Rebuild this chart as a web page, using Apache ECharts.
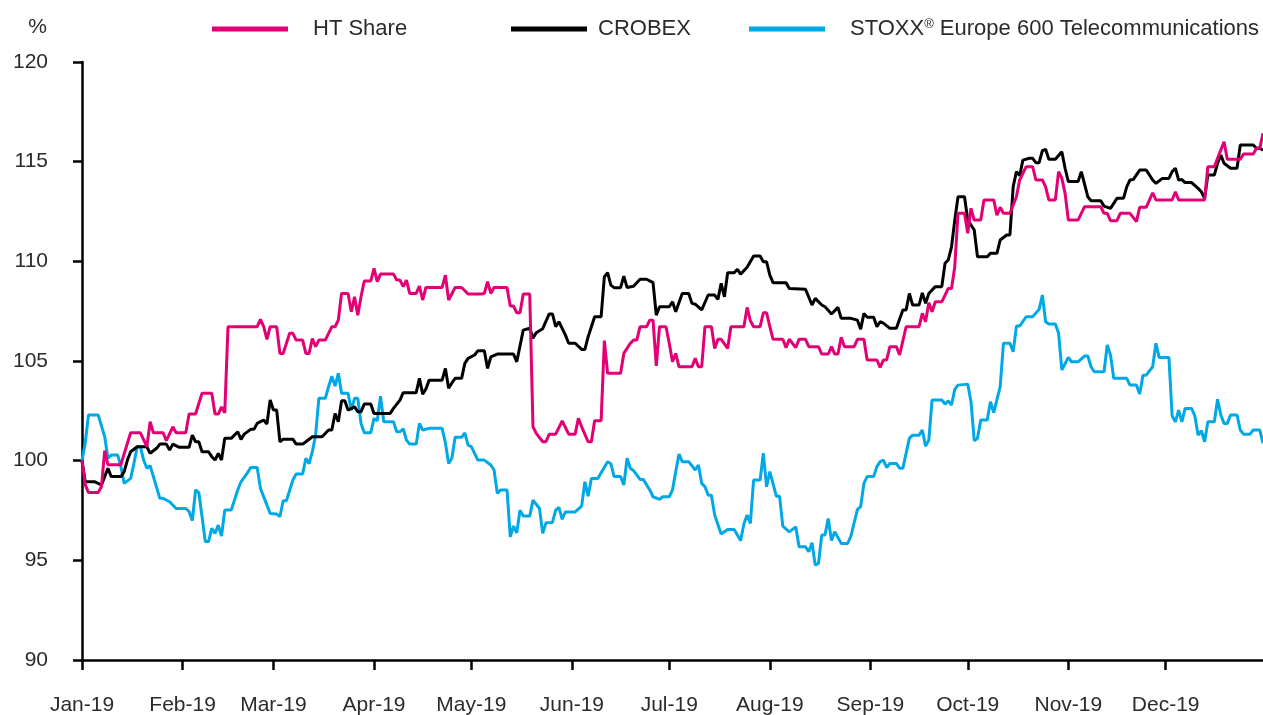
<!DOCTYPE html>
<html>
<head>
<meta charset="utf-8">
<script src="https://cdn.jsdelivr.net/npm/echarts@6/dist/echarts.min.js"></script>
<style>
  html, body { margin: 0; padding: 0; background: #fff; }
  #chart { width: 1263px; height: 715px; }
</style>
</head>
<body>
<div id="chart"></div>
<script>
// month tick labels
const monthNames = ["Jan", "Feb", "Mar", "Apr", "May", "Jun", "Jul", "Aug", "Sep", "Oct", "Nov", "Dec"];
const seriesNames = ["HT Share", "CROBEX", "STOXX® Europe 600 Telecommunications"];

// [day of 2019 (0 = 1 Jan), index value]
const htShare = [[0,100.0],[1,98.8],[2,98.4],[5,98.4],[6,98.7],[7,100.5],[8,99.8],[12,99.8],[13,100.35],[15,101.4],[18,101.4],[20,100.7],[21,101.95],[22,101.4],[25,101.4],[26,101.0],[28,101.7],[29,101.4],[32,101.4],[33,102.34],[35,102.34],[37,103.38],[40,103.38],[41,102.34],[42,102.34],[43,102.7],[44,102.4],[45,106.72],[54,106.72],[55,107.09],[56,106.72],[57,106.09],[58,106.72],[60,106.72],[61,105.38],[62,105.38],[64,106.39],[65,106.39],[66,106.05],[68,106.05],[69,105.38],[70,105.38],[71,106.13],[72,105.72],[73,106.05],[75,106.05],[76,106.39],[77,106.72],[78,106.72],[79,107.05],[80,108.39],[82,108.39],[83,107.47],[84,108.22],[85,107.3],[86,108.22],[87,109.01],[89,109.01],[90,109.65],[91,108.98],[92,109.36],[96,109.36],[97,109.06],[98,109.06],[99,108.73],[100,109.06],[101,108.39],[103,108.39],[104,108.76],[105,108.06],[106,108.69],[111,108.69],[112,109.31],[113,108.06],[115,108.69],[117,108.69],[119,108.36],[123,108.36],[124,108.39],[125,108.98],[126,108.39],[127,108.69],[131,108.69],[132,107.76],[133,107.76],[134,107.42],[135,107.42],[136,108.36],[138,108.36],[139,101.7],[140,101.37],[142,100.95],[143,100.95],[144,101.33],[146,101.33],[148,102.0],[150,101.33],[152,101.33],[153,102.12],[154,101.7],[156,100.95],[157,100.95],[158,102.0],[160,102.0],[161,106.02],[162,104.38],[166,104.38],[167,105.38],[169,105.89],[170,106.05],[171,106.05],[172,106.72],[174,106.72],[175,107.05],[176,107.05],[177,104.75],[178,106.72],[180,106.72],[181,105.89],[182,104.96],[183,105.38],[184,104.71],[188,104.71],[189,105.13],[190,104.71],[191,104.71],[192,106.72],[194,106.72],[195,105.63],[196,106.09],[197,106.09],[199,105.63],[200,106.72],[204,106.72],[205,107.69],[206,107.02],[207,106.72],[209,106.72],[210,107.42],[211,107.42],[212,106.72],[213,106.09],[216,106.09],[217,105.67],[218,106.09],[220,105.67],[221,106.09],[223,106.09],[224,105.72],[227,105.72],[228,105.35],[230,105.35],[231,105.72],[232,105.35],[233,105.35],[234,106.19],[235,105.72],[238,105.72],[239,106.09],[241,106.09],[242,105.05],[245,105.05],[246,104.68],[247,105.05],[248,105.05],[249,105.72],[251,105.72],[252,105.3],[254,106.72],[258,106.72],[259,107.39],[260,106.97],[261,107.92],[262,107.47],[263,107.97],[265,107.97],[267,108.64],[268,108.64],[269,109.73],[270,112.41],[272,112.41],[273,111.41],[274,112.66],[275,112.07],[277,112.07],[278,113.08],[281,113.08],[282,112.32],[283,112.71],[284,112.41],[286,112.41],[288,113.24],[289,114.08],[291,114.75],[293,114.75],[294,114.08],[296,114.08],[297,113.74],[298,113.08],[300,113.08],[301,114.5],[302,114.16],[303,113.41],[304,112.07],[307,112.07],[309,112.74],[314,112.74],[315,112.41],[316,112.41],[317,112.04],[319,112.04],[320,112.41],[323,112.41],[325,111.99],[326,112.71],[328,112.71],[330,113.44],[331,113.08],[336,113.08],[337,113.49],[338,113.08],[346,113.08],[347,114.75],[349,114.75],[352,116.0],[353,115.12],[357,115.12],[358,115.38],[361,115.38],[362,115.67],[363,115.67],[364,116.42]];

const crobex = [[0,100.0],[1,98.94],[4,98.94],[6,98.78],[7,99.2],[8,99.62],[9,99.2],[12,99.2],[13,99.45],[14,100.03],[15,100.45],[17,100.7],[20,100.7],[21,100.37],[23,100.62],[24,100.83],[26,100.83],[27,100.53],[28,100.83],[30,100.67],[33,100.67],[34,101.28],[35,100.95],[36,100.95],[37,100.45],[39,100.45],[40,100.2],[41,100.03],[42,100.37],[43,100.03],[44,101.12],[46,101.12],[48,101.45],[49,101.07],[50,101.33],[52,101.57],[53,101.57],[54,101.87],[56,102.04],[57,101.84],[58,103.04],[59,102.54],[60,102.54],[61,100.95],[62,101.08],[65,101.08],[66,100.83],[68,100.83],[69,100.95],[71,101.2],[74,101.2],[76,101.54],[77,101.54],[78,102.37],[79,101.95],[80,103.0],[81,103.0],[82,102.54],[84,102.7],[85,102.46],[86,102.46],[87,102.84],[89,102.84],[90,102.37],[95,102.37],[96,102.62],[98,103.04],[99,103.41],[103,103.41],[104,104.13],[105,103.34],[106,103.6],[107,104.04],[111,104.04],[112,104.63],[113,103.63],[114,103.9],[115,104.13],[117,104.13],[118,104.88],[119,105.13],[121,105.3],[122,105.51],[124,105.51],[125,104.63],[126,105.21],[128,105.35],[133,105.35],[134,104.96],[136,106.55],[138,106.64],[139,106.14],[140,106.42],[142,106.62],[144,107.36],[145,107.36],[146,106.72],[147,106.97],[149,106.3],[150,105.89],[152,105.89],[154,105.58],[155,105.58],[156,106.22],[157,106.72],[158,107.22],[160,107.22],[161,109.23],[162,109.43],[163,108.81],[164,108.68],[166,108.68],[167,109.26],[168,108.69],[170,108.75],[172,109.1],[174,109.1],[176,108.93],[177,107.3],[178,107.72],[181,107.72],[182,107.97],[183,107.47],[185,108.39],[187,108.39],[188,107.89],[189,107.85],[191,107.56],[193,108.31],[195,108.31],[196,108.09],[197,108.9],[198,108.22],[199,109.43],[201,109.43],[202,109.6],[203,109.36],[205,109.7],[207,110.27],[209,110.27],[210,109.98],[211,109.98],[212,109.31],[213,108.93],[217,108.93],[218,108.64],[223,108.6],[225,107.81],[226,108.14],[228,107.81],[229,107.72],[231,107.36],[233,107.69],[234,107.14],[237,107.14],[239,107.05],[240,106.59],[241,107.39],[242,107.2],[244,107.2],[245,106.72],[246,106.97],[247,106.9],[249,106.64],[251,106.64],[253,107.56],[254,107.56],[255,108.39],[256,107.81],[258,107.81],[259,108.42],[260,107.89],[261,108.39],[263,108.73],[265,108.73],[266,109.9],[267,110.07],[268,110.73],[269,112.07],[270,113.24],[272,113.24],[273,112.07],[275,111.57],[276,110.23],[279,110.23],[280,110.4],[282,110.4],[283,111.07],[285,111.32],[286,111.32],[287,113.74],[288,114.5],[289,114.3],[290,115.08],[292,115.17],[293,115.17],[294,114.95],[295,114.95],[296,115.55],[297,115.62],[298,115.12],[300,115.12],[302,115.5],[303,114.67],[304,114.0],[307,114.0],[308,114.5],[310,113.24],[311,113.04],[314,113.04],[315,112.77],[317,112.66],[319,113.16],[321,113.16],[322,113.74],[323,114.08],[324,114.1],[326,114.58],[328,114.58],[330,114.08],[331,113.91],[333,114.16],[335,114.16],[336,114.5],[337,114.67],[338,114.08],[339,114.1],[340,113.95],[342,113.95],[344,113.66],[345,113.49],[346,113.16],[347,114.33],[349,114.33],[350,114.92],[351,115.33],[352,114.92],[354,114.67],[356,114.67],[357,115.84],[361,115.84],[362,115.67],[363,115.67],[364,115.58]];

const stoxxTelecom = [[0,100.0],[1,100.9],[2,102.29],[5,102.29],[7,101.2],[8,100.12],[9,100.28],[11,100.28],[12,99.7],[13,98.86],[15,99.11],[16,99.86],[17,100.7],[18,100.7],[19,100.03],[20,99.62],[21,99.75],[24,98.11],[25,98.11],[27,97.94],[29,97.6],[32,97.6],[33,97.45],[34,96.99],[35,98.53],[36,98.4],[37,97.19],[38,95.94],[39,95.94],[40,96.6],[41,96.35],[42,96.77],[43,96.22],[44,97.52],[46,97.52],[48,98.53],[49,98.94],[51,99.39],[52,99.66],[54,99.66],[55,98.61],[57,97.77],[58,97.35],[60,97.32],[61,97.19],[62,97.99],[63,97.99],[65,99.03],[66,99.33],[68,99.33],[69,100.12],[70,99.85],[71,100.45],[72,101.28],[73,103.13],[75,103.13],[76,103.71],[77,104.24],[78,103.74],[79,104.38],[80,103.38],[82,103.38],[83,102.54],[84,103.13],[85,103.13],[86,101.87],[87,101.4],[89,101.4],[90,102.12],[91,102.0],[92,103.24],[93,101.95],[96,101.95],[97,101.45],[98,101.45],[99,101.6],[100,101.03],[101,100.83],[103,100.83],[104,101.87],[105,101.54],[107,101.62],[111,101.62],[112,100.9],[113,99.86],[114,100.12],[115,101.17],[117,101.17],[118,101.4],[119,100.78],[120,100.7],[122,100.03],[124,100.03],[126,99.78],[127,99.53],[128,98.36],[129,98.53],[131,98.53],[132,96.18],[133,96.72],[134,96.38],[135,97.52],[136,97.22],[138,97.22],[139,98.02],[141,97.6],[142,96.35],[143,96.88],[145,96.9],[146,97.52],[147,97.66],[148,97.06],[149,97.43],[152,97.43],[154,97.72],[155,98.94],[156,98.22],[157,99.11],[159,99.11],[160,99.39],[162,99.95],[163,99.85],[164,99.2],[166,99.2],[167,98.78],[168,100.12],[169,99.62],[170,99.5],[172,99.06],[173,99.06],[175,98.53],[176,98.19],[178,98.06],[179,98.19],[181,98.19],[182,98.53],[183,99.45],[184,100.33],[185,99.95],[187,99.95],[189,99.53],[190,99.78],[191,98.86],[192,98.7],[193,98.27],[194,98.27],[195,97.27],[197,96.32],[199,96.55],[201,96.55],[203,95.99],[204,96.82],[205,97.27],[206,96.85],[207,99.03],[209,99.03],[210,100.37],[211,98.69],[212,99.45],[214,98.22],[215,98.22],[216,96.72],[218,96.43],[220,96.68],[221,95.68],[223,95.68],[224,95.43],[225,95.88],[226,94.76],[227,94.85],[228,96.27],[229,96.27],[230,97.1],[231,95.99],[232,96.43],[234,95.85],[236,95.85],[237,96.22],[239,97.56],[240,97.7],[241,98.86],[242,99.2],[244,99.2],[245,99.7],[246,99.95],[247,100.03],[248,99.66],[249,99.86],[251,99.86],[252,99.62],[253,99.62],[255,101.12],[256,101.28],[258,101.28],[259,101.54],[260,100.73],[261,101.03],[262,103.04],[265,103.04],[266,102.84],[267,103.0],[268,102.79],[269,103.58],[270,103.79],[273,103.84],[274,102.96],[275,101.0],[276,101.12],[277,102.04],[279,102.04],[280,102.96],[281,102.41],[283,103.71],[284,105.89],[286,105.89],[287,105.46],[288,106.75],[289,106.75],[291,107.22],[293,107.22],[295,107.59],[296,108.31],[297,106.97],[298,106.85],[300,106.85],[301,106.39],[302,104.55],[304,105.18],[305,104.96],[307,104.96],[309,105.25],[310,105.25],[311,104.71],[312,104.46],[315,104.46],[316,105.8],[317,105.3],[318,104.13],[322,104.13],[323,103.79],[325,103.79],[326,103.34],[327,104.29],[328,104.29],[330,104.71],[331,105.89],[332,105.18],[335,105.18],[336,102.24],[337,101.95],[338,102.54],[339,101.95],[340,102.62],[342,102.62],[343,102.24],[344,101.28],[345,101.5],[346,100.95],[347,101.95],[349,101.95],[350,103.08],[351,102.29],[352,101.87],[353,101.87],[354,102.29],[356,102.29],[357,101.54],[358,101.33],[360,101.33],[361,101.54],[363,101.54],[364,100.87]];

const colors = ["#e20074", "#000000", "#00a8e6"];
const font = "'Liberation Sans', Arial, sans-serif";
const textColor = "#2b2b2b";

// day offset -> timestamp for the time axis
function toTime(rows) {
  return rows.map(function (r) {
    return [new Date(2019, 0, 1 + r[0]).getTime(), r[1]];
  });
}

const chart = echarts.init(document.getElementById("chart"));

function legendItem(name, left, gap) {
  return {
    data: [name],
    left: left,
    top: 18,
    padding: 0,
    icon: "rect",
    itemWidth: 76,
    itemHeight: 5,
    selectedMode: false,
    formatter: function (n) {
      return n.replace("®", "{sup|®}");
    },
    textStyle: {
      fontFamily: font,
      fontSize: 22,
      color: textColor,
      padding: [0, 0, 0, gap],
      rich: {
        sup: { fontSize: 13, verticalAlign: "top", color: textColor, fontFamily: font }
      }
    }
  };
}

chart.setOption({
  animation: false,
  textStyle: { fontFamily: font },
  legend: [
    legendItem(seriesNames[0], 212, 20),
    legendItem(seriesNames[1], 511, 6),
    legendItem(seriesNames[2], 749, 20)
  ],
  grid: { left: 82, right: 0, top: 62, bottom: 55, containLabel: false, outerBoundsMode: "none" },
  xAxis: {
    type: "time",
    min: new Date(2019, 0, 1).getTime(),
    max: new Date(2019, 11, 31).getTime(),
    splitNumber: 12,
    minInterval: 28 * 86400000,
    maxInterval: 31 * 86400000,
    axisLine: { lineStyle: { color: "#000", width: 2.5 } },
    axisTick: { show: true, length: 10, lineStyle: { color: "#000", width: 2.5 } },
    splitLine: { show: false },
    axisLabel: {
      margin: 35,
      fontSize: 21,
      color: textColor,
      fontFamily: font,
      formatter: function (val) {
        const d = new Date(val);
        return monthNames[d.getMonth()] + "-" + String(d.getFullYear()).slice(2);
      }
    }
  },
  yAxis: {
    type: "value",
    min: 90,
    max: 120,
    interval: 5,
    name: "%",
    nameLocation: "end",
    nameGap: 24,
    nameTextStyle: { fontSize: 21, color: textColor, fontFamily: font, align: "right", padding: [0, 35, 0, 0] },
    axisLine: { show: true, lineStyle: { color: "#000", width: 2.5 } },
    axisTick: { show: true, length: 9, lineStyle: { color: "#000", width: 2.5 } },
    splitLine: { show: false },
    axisLabel: { margin: 34, fontSize: 21, color: textColor, fontFamily: font }
  },
  series: [
    { name: seriesNames[0], type: "line", data: toTime(htShare) },
    { name: seriesNames[1], type: "line", data: toTime(crobex) },
    { name: seriesNames[2], type: "line", data: toTime(stoxxTelecom) }
  ].map(function (s, i) {
    s.symbol = "none";
    s.showSymbol = false;
    s.color = colors[i];
    s.lineStyle = { width: 3, color: colors[i] };
    s.z = 3 - i;
    return s;
  })
});
</script>
</body>
</html>
